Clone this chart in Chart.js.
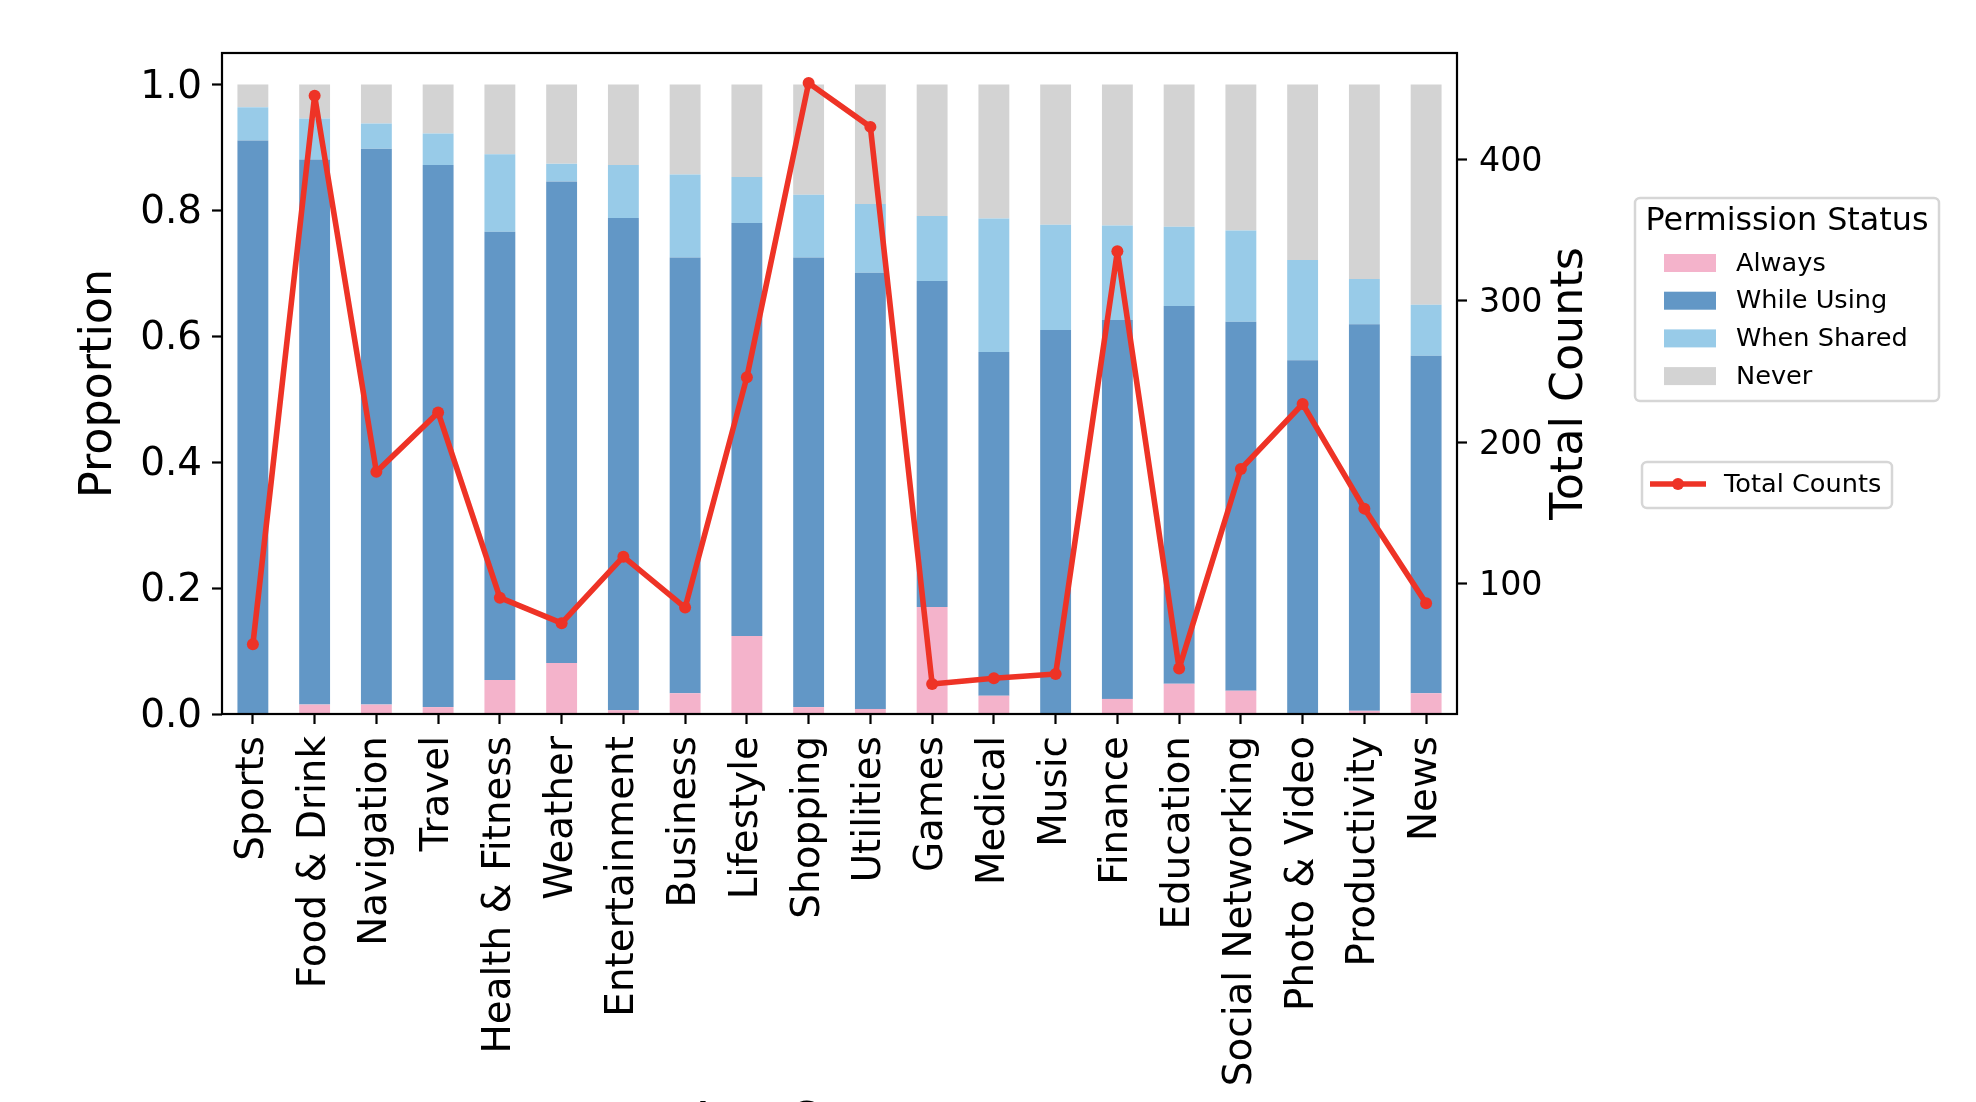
<!DOCTYPE html>
<html>
<head>
<meta charset="utf-8">
<script src="https://cdn.jsdelivr.net/npm/chart.js@4.4.1/dist/chart.umd.min.js"></script>
<style>
  html, body { margin: 0; padding: 0; background: #fff; overflow: hidden; }
  #wrap { width: 1976px; height: 1102px; overflow: hidden; }
  canvas { display: block; }
</style>
</head>
<body>
<div id="wrap"><canvas id="permChart" width="1976" height="1200" style="width:1976px;height:1200px"></canvas></div>
<script>
// categorias (eixo x)
const categorias = ['Sports', 'Food & Drink', 'Navigation', 'Travel', 'Health & Fitness', 'Weather',
    'Entertainment', 'Business', 'Lifestyle', 'Shopping', 'Utilities', 'Games', 'Medical', 'Music',
    'Finance', 'Education', 'Social Networking', 'Photo & Video', 'Productivity', 'News'];

// proporções empilhadas por status de permissão
const always      = [0.000, 0.015, 0.015, 0.011, 0.054, 0.081, 0.006, 0.033, 0.124, 0.011, 0.008, 0.170, 0.029, 0.000, 0.024, 0.048, 0.037, 0.000, 0.005, 0.033];
const whileUsing  = [0.911, 0.866, 0.883, 0.861, 0.712, 0.765, 0.782, 0.692, 0.656, 0.714, 0.693, 0.518, 0.546, 0.610, 0.602, 0.600, 0.586, 0.562, 0.614, 0.536];
const whenShared  = [0.053, 0.065, 0.040, 0.050, 0.123, 0.028, 0.084, 0.132, 0.073, 0.100, 0.109, 0.103, 0.212, 0.167, 0.150, 0.126, 0.145, 0.159, 0.072, 0.081];
const never       = [0.036, 0.054, 0.062, 0.078, 0.111, 0.126, 0.128, 0.143, 0.147, 0.175, 0.190, 0.209, 0.213, 0.223, 0.224, 0.226, 0.232, 0.279, 0.309, 0.350];

// total de apps por categoria (eixo direito)
const totalCounts = [57, 445, 179, 221, 90, 72, 119, 83, 246, 454, 423, 29, 33, 36, 335, 40, 181, 227, 153, 86];

// ticks
const ticksProporcao = [0, 0.2, 0.4, 0.6, 0.8, 1.0];
const ticksContagem = [100, 200, 300, 400];

const FONTE = 'DejaVu Sans';
const cores = {
    always: '#f4b3cb',
    whileUsing: '#6297c6',
    whenShared: '#98cbe8',
    never: '#d3d3d3',
    linha: '#ee3326'
};

// limites do eixo direito com margem de 5% (como o autoscale do matplotlib)
const cMin = Math.min(...totalCounts);
const cMax = Math.max(...totalCounts);
const margem = (cMax - cMin) * 0.05;

function barra(label, data, cor) {
    return {
        type: 'bar', label: label, data: data, backgroundColor: cor,
        borderWidth: 0, stack: 'perm', yAxisID: 'y', order: 1,
        barPercentage: 0.5, categoryPercentage: 1.0
    };
}

// moldura, título do eixo direito e as duas legendas
const extras = {
    id: 'extras',
    afterDraw(chart) {
        const ctx = chart.ctx;
        const a = chart.chartArea;
        ctx.save();

        // moldura dos quatro lados
        ctx.strokeStyle = '#000';
        ctx.lineWidth = 2.2;
        ctx.strokeRect(a.left, a.top, a.right - a.left, a.bottom - a.top);

        // título do eixo direito (lido de baixo para cima)
        ctx.save();
        ctx.translate(1570, (a.top + a.bottom) / 2);
        ctx.rotate(-Math.PI / 2);
        ctx.font = '44.4px "' + FONTE + '"';
        ctx.fillStyle = '#000';
        ctx.textAlign = 'center';
        ctx.textBaseline = 'middle';
        ctx.fillText('Total Counts', 0, 0);
        ctx.restore();

        function caixa(x, y, w, h) {
            const r = 5;
            ctx.beginPath();
            ctx.moveTo(x + r, y);
            ctx.arcTo(x + w, y, x + w, y + h, r);
            ctx.arcTo(x + w, y + h, x, y + h, r);
            ctx.arcTo(x, y + h, x, y, r);
            ctx.arcTo(x, y, x + w, y, r);
            ctx.closePath();
            ctx.fillStyle = 'rgba(255,255,255,0.8)';
            ctx.fill();
            ctx.strokeStyle = '#d6d6d6';
            ctx.lineWidth = 2.5;
            ctx.stroke();
        }

        // legenda 1: status de permissão
        caixa(1635, 198, 304, 203);
        ctx.fillStyle = '#000';
        ctx.textBaseline = 'middle';
        ctx.textAlign = 'center';
        ctx.font = '31.8px "' + FONTE + '"';
        ctx.fillText('Permission Status', 1787, 222);
        ctx.textAlign = 'left';
        ctx.font = '25.6px "' + FONTE + '"';
        const barras = chart.data.datasets.filter(d => d.type === 'bar');
        barras.forEach((d, i) => {
            const cy = 263 + i * 37.7;
            ctx.fillStyle = d.backgroundColor;
            ctx.fillRect(1664, cy - 9, 52, 18);
            ctx.fillStyle = '#000';
            ctx.fillText(d.label, 1736, cy + 1);
        });

        // legenda 2: total counts
        const linha = chart.data.datasets.find(d => d.type === 'line');
        caixa(1642, 462, 250, 46);
        ctx.strokeStyle = linha.borderColor;
        ctx.lineWidth = 5.6;
        ctx.beginPath();
        ctx.moveTo(1650, 484);
        ctx.lineTo(1706, 484);
        ctx.stroke();
        ctx.fillStyle = linha.borderColor;
        ctx.beginPath();
        ctx.arc(1678, 484, 6, 0, Math.PI * 2);
        ctx.fill();
        ctx.fillStyle = '#000';
        ctx.fillText(linha.label, 1724, 485);

        ctx.restore();
    }
};

const ctx = document.getElementById('permChart').getContext('2d');
new Chart(ctx, {
    data: {
        labels: categorias,
        datasets: [
            barra('Always', always, cores.always),
            barra('While Using', whileUsing, cores.whileUsing),
            barra('When Shared', whenShared, cores.whenShared),
            barra('Never', never, cores.never),
            {
                type: 'line', label: 'Total Counts', data: totalCounts, yAxisID: 'y1', order: 0,
                borderColor: cores.linha, backgroundColor: cores.linha, borderWidth: 5.6,
                borderJoinStyle: 'round', borderCapStyle: 'round',
                pointRadius: 6, pointHoverRadius: 6, pointBorderWidth: 0,
                pointBackgroundColor: cores.linha, tension: 0, fill: false
            }
        ]
    },
    options: {
        responsive: false,
        animation: false,
        devicePixelRatio: 1,
        layout: { padding: { top: 53, left: 0, right: 379, bottom: 0 } },
        plugins: { legend: { display: false }, tooltip: { enabled: false } },
        scales: {
            x: {
                stacked: true,
                offset: true,
                border: { display: false },
                grid: { display: true, drawOnChartArea: false, drawTicks: true, offset: false,
                        tickLength: 10, tickWidth: 2.2, tickColor: '#000' },
                ticks: { autoSkip: false, minRotation: 90, maxRotation: 90, padding: 12,
                         color: '#000', font: { family: FONTE, size: 38.9 } },
                title: { display: true, text: 'App Category', color: '#000',
                         font: { family: FONTE, size: 44.4 }, padding: { top: 0, bottom: 51 } },
                afterFit: s => { s.height = 1200 - 714; }
            },
            y: {
                stacked: true,
                position: 'left',
                min: 0,
                max: 1.05,
                border: { display: false },
                grid: { display: true, drawOnChartArea: false, drawTicks: true,
                        tickLength: 10, tickWidth: 2.2, tickColor: '#000' },
                afterBuildTicks: s => { s.ticks = ticksProporcao.map(v => ({ value: v })); },
                ticks: { padding: 10, labelOffset: 3, color: '#000', font: { family: FONTE, size: 38.9 },
                         callback: v => Number(v).toFixed(1) },
                title: { display: true, text: 'Proportion', color: '#000',
                         font: { family: FONTE, size: 44.4 }, padding: { top: 73, bottom: 0 } },
                afterFit: s => { s.width = 222; }
            },
            y1: {
                stacked: false,
                position: 'right',
                min: cMin - margem,
                max: cMax + margem,
                border: { display: false },
                grid: { display: true, drawOnChartArea: false, drawTicks: true,
                        tickLength: 10, tickWidth: 2.2, tickColor: '#000' },
                afterBuildTicks: s => { s.ticks = ticksContagem.map(v => ({ value: v })); },
                ticks: { padding: 12, labelOffset: 3, color: '#000', font: { family: FONTE, size: 33.3 } },
                title: { display: false },
                afterFit: s => { s.width = 140; }
            }
        }
    },
    plugins: [extras]
});
</script>
</body>
</html>
